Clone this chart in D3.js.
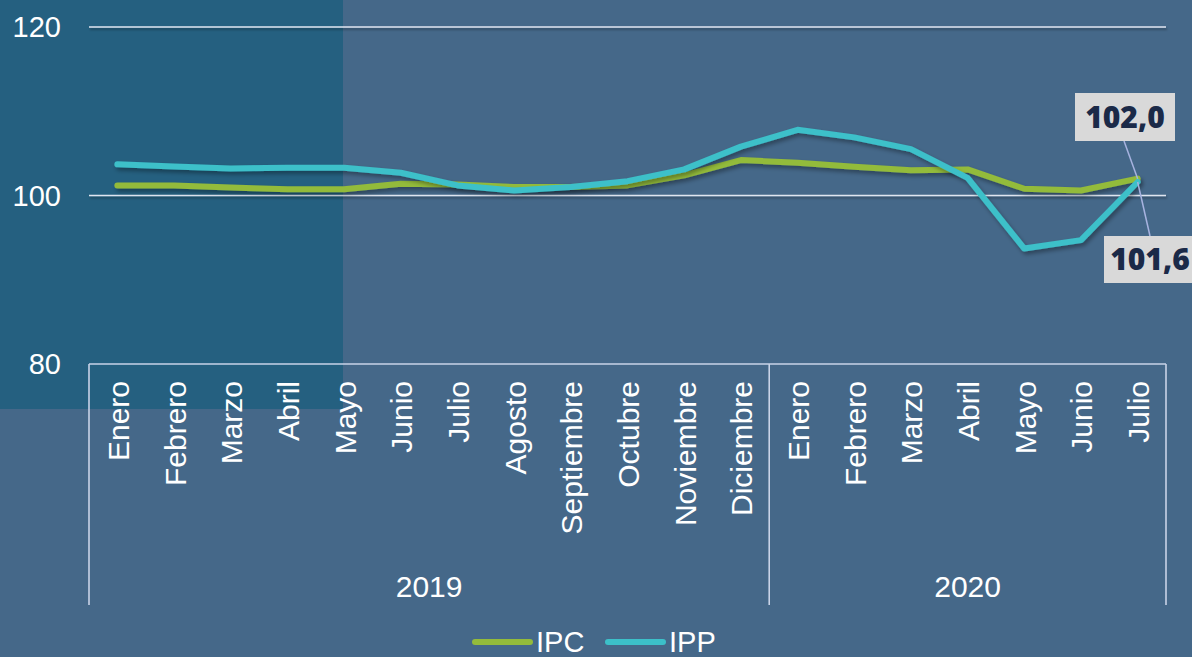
<!DOCTYPE html>
<html><head><meta charset="utf-8">
<script src="https://cdn.jsdelivr.net/npm/d3@7"></script>
<style>
html,body{margin:0;padding:0;background:#456889;}
svg{display:block;}
text{font-family:"Liberation Sans",Arial,sans-serif;}
</style></head>
<body>
<svg id="c" width="1192" height="657"></svg>
<script>
const months = ["Enero","Febrero","Marzo","Abril","Mayo","Junio","Julio","Agosto","Septiembre","Octubre","Noviembre","Diciembre","Enero","Febrero","Marzo","Abril","Mayo","Junio","Julio"];
const years = ["2019","2019","2019","2019","2019","2019","2019","2019","2019","2019","2019","2019","2020","2020","2020","2020","2020","2020","2020"];
const yearLabels = ["2019","2020"];
const ipc = [101.2,101.2,100.95,100.75,100.75,101.4,101.3,101.0,101.0,101.2,102.4,104.2,103.9,103.4,103.0,103.1,100.8,100.6,102.0];
const ipp = [103.7,103.45,103.2,103.3,103.3,102.7,101.2,100.6,101.0,101.7,103.1,105.8,107.8,106.9,105.5,102.1,93.7,94.7,101.6];
const yTicks = [80,100,120];
const endLabels = ["102,0","101,6"];

(function(){
const svg = d3.select("#c");
const W = 1192, H = 657;
const mLeft = 89, mRight = 1166, mTop = 27, mBottom = 364;

const keys = months.map((m,i)=>years[i]+"-"+m);
const x = d3.scaleBand().domain(keys).range([mLeft,mRight]);
const y = d3.scaleLinear().domain([80,120]).range([mBottom,mTop]);

const defs = svg.append("defs");
const f = defs.append("filter").attr("id","sh").attr("x","-10%").attr("y","-50%").attr("width","120%").attr("height","200%");
f.append("feDropShadow").attr("dx",2).attr("dy",3).attr("stdDeviation",2).attr("flood-color","#000").attr("flood-opacity",0.35);
const g2 = defs.append("filter").attr("id","sh2").attr("filterUnits","userSpaceOnUse").attr("x",0).attr("y",0).attr("width",W).attr("height",H);
g2.append("feDropShadow").attr("dx",1).attr("dy",2).attr("stdDeviation",1.2).attr("flood-color","#000").attr("flood-opacity",0.35);

svg.append("rect").attr("width",W).attr("height",H).attr("fill","#456889");
svg.append("rect").attr("x",0).attr("y",0).attr("width",343).attr("height",409).attr("fill","#256080");

// gridlines
svg.selectAll(".grid").data(yTicks.filter(d=>d!==80)).enter().append("line")
  .attr("x1",mLeft).attr("x2",mRight).attr("y1",d=>y(d)).attr("y2",d=>y(d))
  .attr("stroke","#dfe5f0").attr("stroke-width",1.6).attr("filter","url(#sh2)");

// y tick labels
svg.selectAll(".yl").data(yTicks).enter().append("text")
  .attr("x",61).attr("y",d=>y(d)).attr("dy","0.35em")
  .attr("text-anchor","end").attr("fill","#fff").attr("font-size",29)
  .text(d=>d);

// x axis lines
const axc = "#c9d3e8";
svg.append("line").attr("x1",mLeft).attr("x2",mRight).attr("y1",mBottom).attr("y2",mBottom).attr("stroke",axc).attr("stroke-width",1.6);
const seps = [mLeft, x(keys[12]), mRight];
svg.selectAll(".sep").data(seps).enter().append("line")
  .attr("x1",d=>d).attr("x2",d=>d).attr("y1",mBottom).attr("y2",605)
  .attr("stroke",axc).attr("stroke-width",1.6);

// month labels
svg.selectAll(".ml").data(keys).enter().append("text")
  .attr("transform",(d,i)=>`translate(${x(d)+x.bandwidth()/2+1},381) rotate(-90)`)
  .attr("dy","0.35em").attr("text-anchor","end").attr("fill","#fff").attr("font-size",30)
  .text((d,i)=>months[i]);

// year labels
yearLabels.forEach(yr=>{
  const ks = keys.filter((k,i)=>years[i]===yr);
  const c = (x(ks[0]) + x(ks[ks.length-1]) + x.bandwidth())/2;
  svg.append("text").attr("x",c).attr("y",597).attr("text-anchor","middle")
    .attr("fill","#fff").attr("font-size",30).text(yr);
});

// lines
const cx = (d,i)=>x(keys[i])+x.bandwidth()/2;
const line = d3.line().x((d,i)=>cx(d,i)).y(d=>y(d));
const colIPC = "#93bb3b", colIPP = "#3cc0c9";
svg.append("path").datum(ipc).attr("d",line).attr("fill","none").attr("stroke",colIPC).attr("stroke-width",6).attr("stroke-linecap","round").attr("stroke-linejoin","round").attr("filter","url(#sh)");
svg.append("path").datum(ipp).attr("d",line).attr("fill","none").attr("stroke",colIPP).attr("stroke-width",6).attr("stroke-linecap","round").attr("stroke-linejoin","round").attr("filter","url(#sh)");

// end labels
const n = ipc.length-1;
const px = cx(null,n);
const lab = [
  {t:endLabels[0], bx:1075, by:93, bw:100, bh:48, lx:1124, ly:141, py:y(ipc[n])},
  {t:endLabels[1], bx:1104, by:236, bw:92, bh:47, lx:1150, ly:236, py:y(ipp[n])}
];
lab.forEach(l=>{
  svg.append("line").attr("x1",l.lx).attr("y1",l.ly).attr("x2",px).attr("y2",l.py)
    .attr("stroke","#a7b3e0").attr("stroke-width",1.5);
});
lab.forEach(l=>{
  svg.append("rect").attr("x",l.bx).attr("y",l.by).attr("width",l.bw).attr("height",l.bh).attr("fill","#d9d9d9");
  svg.append("text").attr("x",l.bx+l.bw/2).attr("y",l.by+l.bh/2).attr("dy","0.36em")
    .attr("text-anchor","middle").attr("fill","#1b2a48").attr("font-size",30)
    .attr("font-weight",800).style("font-family","'Open Sans',sans-serif").text(l.t);
});

// legend
const leg = [{name:"IPC",c:colIPC,x:475},{name:"IPP",c:colIPP,x:608}];
leg.forEach(l=>{
  svg.append("line").attr("x1",l.x).attr("x2",l.x+55).attr("y1",642).attr("y2",642)
    .attr("stroke",l.c).attr("stroke-width",6).attr("stroke-linecap","round");
  svg.append("text").attr("x",l.x+61).attr("y",652).attr("fill","#fff").attr("font-size",29).text(l.name);
});
})();
</script>
</body></html>
